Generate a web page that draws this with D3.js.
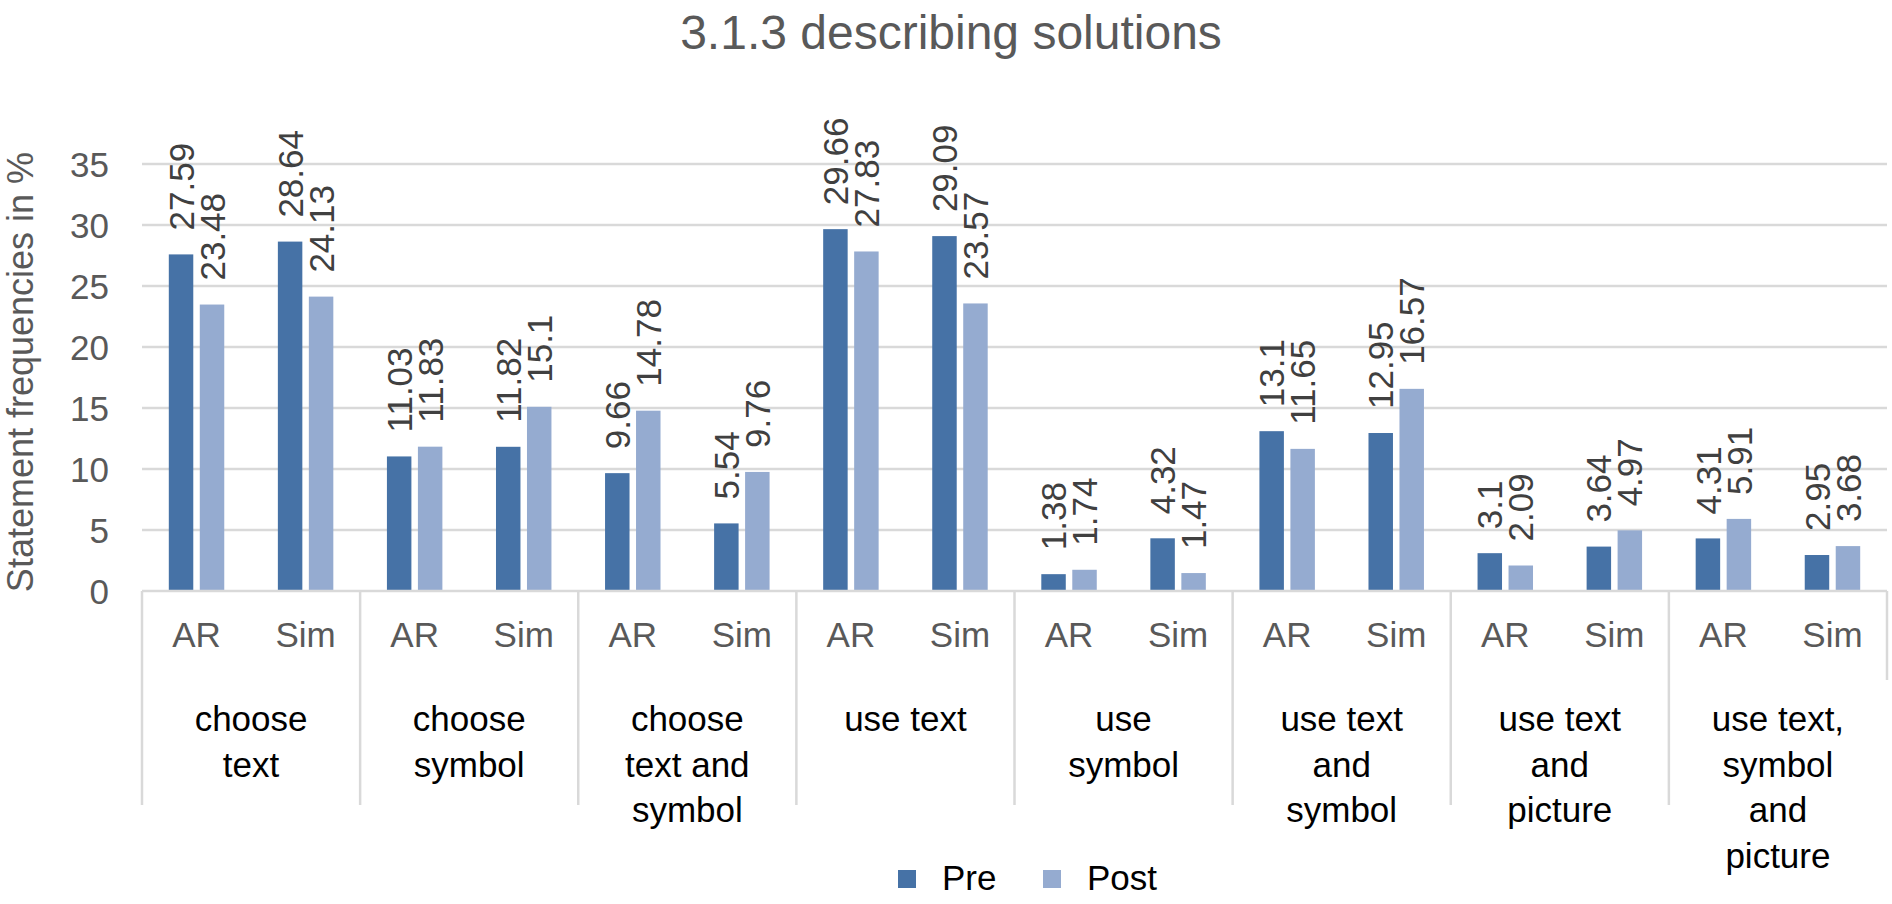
<!DOCTYPE html>
<html>
<head>
<meta charset="utf-8">
<script src="https://cdn.jsdelivr.net/npm/d3@7"></script>
<style>
  body { margin: 0; background: #fff; }
  text { font-family: "Liberation Sans", Arial, sans-serif; }
</style>
</head>
<body>
<div id="chart"></div>
<script>
// data
var categories = [
    "choose\ntext",
    "choose\nsymbol",
    "choose\ntext and\nsymbol",
    "use text",
    "use\nsymbol",
    "use text\nand\nsymbol",
    "use text\nand\npicture",
    "use text,\nsymbol\nand\npicture"
];
var groups = ["AR", "Sim"];
var series = ["Pre", "Post"];
var preValues = [27.59, 28.64, 11.03, 11.82, 9.66, 5.54, 29.66, 29.09,
                 1.38, 4.32, 13.1, 12.95, 3.1, 3.64, 4.31, 2.95];
var postValues = [23.48, 24.13, 11.83, 15.1, 14.78, 9.76, 27.83, 23.57,
                  1.74, 1.47, 11.65, 16.57, 2.09, 4.97, 5.91, 3.68];
var yTicks = [0, 5, 10, 15, 20, 25, 30, 35];
var colors = ["#4672a6", "#95abd0"];

// set the dimensions and margins of the graph
var W = 1892, H = 904;
var margin = { top: 164, right: 5, bottom: 313, left: 142 },
    width = 1887 - margin.left,
    height = 591 - margin.top;

// flatten into rows for the bars
var rows = [];
categories.forEach(function (c, i) {
    groups.forEach(function (g, j) {
        rows.push({ cat: c, group: g, Pre: preValues[i * 2 + j], Post: postValues[i * 2 + j] });
    });
});

// set the ranges
var x0 = d3.scaleBand().domain(categories).range([0, width]);
var x1 = d3.scaleBand().domain(groups).range([0, x0.bandwidth()]);
var x2 = d3.scaleBand().domain(series).range([0, x1.bandwidth()])
    .paddingInner(0.21).paddingOuter(0.865);
var y = d3.scaleLinear().domain([0, 35]).range([height, 0]);
var color = d3.scaleOrdinal().domain(series).range(colors);

var svg = d3.select("#chart").append("svg")
    .attr("width", W)
    .attr("height", H);

// title
svg.append("text")
    .attr("x", 951)
    .attr("y", 49)
    .attr("text-anchor", "middle")
    .attr("font-size", 48)
    .attr("fill", "#595959")
    .text("3.1.3 describing solutions");

var g = svg.append("g")
    .attr("transform", "translate(" + margin.left + "," + margin.top + ")");

// gridlines
g.selectAll(".grid")
    .data(yTicks.filter(function (d) { return d > 0; }))
    .enter().append("line")
    .attr("x1", 0).attr("x2", width)
    .attr("y1", function (d) { return y(d); })
    .attr("y2", function (d) { return y(d); })
    .attr("stroke", "#d9d9d9")
    .attr("stroke-width", 2.5);

// y tick labels
g.selectAll(".ytick")
    .data(yTicks)
    .enter().append("text")
    .attr("x", -33)
    .attr("y", function (d) { return y(d); })
    .attr("dy", "0.36em")
    .attr("text-anchor", "end")
    .attr("font-size", 35)
    .attr("fill", "#595959")
    .text(function (d) { return d; });

// y axis title
svg.append("text")
    .attr("transform", "translate(33,372) rotate(-90)")
    .attr("text-anchor", "middle")
    .attr("font-size", 36)
    .attr("fill", "#595959")
    .text("Statement frequencies in %");

// bars
var bar = g.selectAll(".pair")
    .data(rows)
    .enter().append("g")
    .attr("transform", function (d) { return "translate(" + (x0(d.cat) + x1(d.group)) + ",0)"; });

bar.selectAll("rect")
    .data(function (d) { return series.map(function (s) { return { s: s, v: d[s] }; }); })
    .enter().append("rect")
    .attr("x", function (d) { return x2(d.s); })
    .attr("width", x2.bandwidth())
    .attr("y", function (d) { return y(d.v); })
    .attr("height", function (d) { return height - y(d.v); })
    .attr("fill", function (d) { return color(d.s); });

// value labels, rotated, just above each bar
bar.selectAll(".lbl")
    .data(function (d) { return series.map(function (s) { return { s: s, v: d[s] }; }); })
    .enter().append("text")
    .attr("transform", function (d) {
        return "translate(" + (x2(d.s) + x2.bandwidth() / 2) + "," + (y(d.v) - 24) + ") rotate(-90)";
    })
    .attr("dy", "0.36em")
    .attr("font-size", 35)
    .attr("fill", "#404040")
    .text(function (d) { return d.v; });

// category axis
var ax = g.append("g").attr("transform", "translate(0," + height + ")");
ax.append("line")
    .attr("x1", 0).attr("x2", width)
    .attr("stroke", "#d9d9d9").attr("stroke-width", 2.5);

// separators between categories
ax.selectAll(".sep")
    .data(categories)
    .enter().append("line")
    .attr("x1", function (d) { return x0(d); })
    .attr("x2", function (d) { return x0(d); })
    .attr("y1", 0).attr("y2", 214)
    .attr("stroke", "#d9d9d9").attr("stroke-width", 2.5);
ax.append("line")
    .attr("x1", width).attr("x2", width)
    .attr("y1", 0).attr("y2", 89)
    .attr("stroke", "#d9d9d9").attr("stroke-width", 2.5);

// AR / Sim labels
ax.selectAll(".grp")
    .data(rows)
    .enter().append("text")
    .attr("x", function (d) { return x0(d.cat) + x1(d.group) + x1.bandwidth() / 2; })
    .attr("y", 56)
    .attr("text-anchor", "middle")
    .attr("font-size", 35)
    .attr("fill", "#595959")
    .text(function (d) { return d.group; });

// category labels
var cl = ax.selectAll(".cat")
    .data(categories)
    .enter().append("text")
    .attr("text-anchor", "middle")
    .attr("font-size", 35)
    .attr("fill", "#000");
cl.selectAll("tspan")
    .data(function (d) { return d.split("\n").map(function (t) { return { t: t, c: d }; }); })
    .enter().append("tspan")
    .attr("x", function (d) { return x0(d.c) + x0.bandwidth() / 2; })
    .attr("y", function (d, i) { return 140 + i * 45.5; })
    .text(function (d) { return d.t; });

// legend
var leg = svg.append("g").attr("transform", "translate(898,870)");
var li = leg.selectAll(".li")
    .data(series)
    .enter().append("g")
    .attr("transform", function (d, i) { return "translate(" + (i * 145) + ",0)"; });
li.append("rect")
    .attr("width", 18).attr("height", 18)
    .attr("fill", function (d) { return color(d); });
li.append("text")
    .attr("x", 44).attr("y", 20)
    .attr("font-size", 35)
    .attr("fill", "#000")
    .text(function (d) { return d; });
</script>
</body>
</html>
